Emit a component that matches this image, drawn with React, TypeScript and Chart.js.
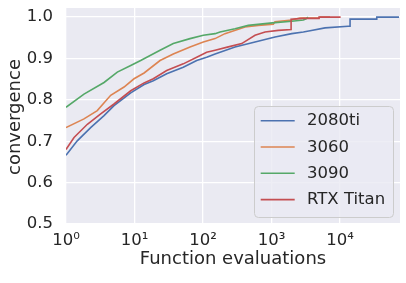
import React, { useEffect, useRef } from 'react';
import { Chart, registerables } from 'chart.js';

Chart.register(...registerables);

// ---------- data ----------
const seriesNames = ['2080ti', '3060', '3090', 'RTX Titan'];
const seriesColors = ['#4C72B0', '#DD8452', '#55A868', '#C44E52'];

const evals2080ti = [1, 1.46, 2.29, 3.59, 5.02, 8.81, 13.8, 18.8, 29.5, 51.5, 80.9, 113, 150, 293, 574, 1125, 1972, 2913, 3650, 6040, 13100, 14000, 14000, 34350, 34350, 72600];
const conv2080ti = [0.666, 0.701, 0.733, 0.762, 0.786, 0.817, 0.837, 0.846, 0.863, 0.879, 0.895, 0.903, 0.911, 0.928, 0.94, 0.952, 0.96, 0.964, 0.967, 0.974, 0.978, 0.978, 0.995, 0.995, 1.0, 1.0];

const evals3060 = [1, 1.83, 2.86, 4.49, 7.03, 9.84, 13.8, 23.6, 36.8, 64.6, 101, 150, 209, 410, 641, 1063, 1125, 1972, 2607, 4935, 5100, 7140];
const conv3060 = [0.733, 0.754, 0.774, 0.811, 0.831, 0.851, 0.865, 0.895, 0.911, 0.928, 0.94, 0.948, 0.96, 0.976, 0.98, 0.983, 0.989, 0.993, 0.998, 0.998, 1.0, 1.0];

const evals3090 = [1, 1.83, 3.59, 5.61, 8.81, 12.3, 23.6, 36.8, 64.6, 101, 150, 177, 293, 458, 1027, 1972, 2913, 3200, 3400];
const conv3090 = [0.782, 0.814, 0.842, 0.867, 0.883, 0.895, 0.92, 0.936, 0.948, 0.956, 0.96, 0.964, 0.972, 0.98, 0.986, 0.99, 0.993, 0.996, 1.0];

const evalsTitan = [1, 1.31, 2.05, 3.21, 5.02, 8.81, 13.8, 18.8, 29.5, 51.5, 80.9, 113, 150, 234, 367, 574, 804, 1256, 1930, 1930, 2884, 4935, 4935, 10200];
const convTitan = [0.68, 0.709, 0.741, 0.766, 0.79, 0.822, 0.841, 0.851, 0.871, 0.887, 0.903, 0.915, 0.92, 0.928, 0.936, 0.956, 0.964, 0.968, 0.97, 0.995, 0.997, 0.997, 1.0, 1.0];

const xTickValues = [1, 10, 100, 1000, 10000];
const xTickLabels = ['10⁰', '10¹', '10²', '10³', '10⁴'];
const yTickValues = [0.5, 0.6, 0.7, 0.8, 0.9, 1.0];
const yTickLabels = ['0.5', '0.6', '0.7', '0.8', '0.9', '1.0'];
const xAxisTitle = 'Function evaluations';
const yAxisTitle = 'convergence';

const seriesEvals = [evals2080ti, evals3060, evals3090, evalsTitan];
const seriesConv = [conv2080ti, conv3060, conv3090, convTitan];

const FONT = '"DejaVu Sans", sans-serif';
const TEXT = '#262626';
const BG = '#EAEAF2';

const decorPlugin = {
  id: 'decor',
  beforeDraw(chart: any) {
    const { ctx, chartArea } = chart;
    ctx.save();
    ctx.fillStyle = BG;
    ctx.fillRect(chartArea.left, chartArea.top, chartArea.right - chartArea.left, chartArea.bottom - chartArea.top);
    ctx.restore();
  },
  afterDatasetsDraw(chart: any) {
    const { ctx, chartArea } = chart;
    ctx.save();
    // legend
    const lw = 139;
    const lh = 111;
    const lx = chartArea.right - 7 - lw;
    const ly = chartArea.bottom - 7 - lh;
    ctx.beginPath();
    ctx.roundRect(lx + 0.5, ly + 0.5, lw, lh, 4);
    ctx.fillStyle = 'rgba(234,234,242,0.8)';
    ctx.fill();
    ctx.strokeStyle = '#CCCCCC';
    ctx.lineWidth = 1;
    ctx.stroke();
    ctx.font = `16.5px ${FONT}`;
    ctx.textBaseline = 'middle';
    ctx.textAlign = 'left';
    seriesNames.forEach((name, i) => {
      const cy = ly + 14.7 + i * 26.3;
      ctx.strokeStyle = seriesColors[i];
      ctx.lineWidth = 1.6;
      ctx.beginPath();
      ctx.moveTo(lx + 6.7, cy);
      ctx.lineTo(lx + 40.7, cy);
      ctx.stroke();
      ctx.fillStyle = TEXT;
      ctx.fillText(name, lx + 53, cy + 0.5);
    });
    ctx.restore();
  },
  afterDraw(chart: any) {
    const { ctx, chartArea } = chart;
    ctx.save();
    ctx.fillStyle = TEXT;
    ctx.font = `18px ${FONT}`;
    ctx.textAlign = 'center';
    ctx.textBaseline = 'alphabetic';
    ctx.fillText(xAxisTitle, (chartArea.left + chartArea.right) / 2, 264);
    ctx.translate(19.5, (chartArea.top + chartArea.bottom) / 2 + 1);
    ctx.rotate(-Math.PI / 2);
    ctx.fillText(yAxisTitle, 0, 0);
    ctx.restore();
  },
};

export default function App() {
  const canvasRef = useRef<HTMLCanvasElement | null>(null);

  useEffect(() => {
    if (!canvasRef.current) return;
    const datasets = seriesNames.map((name, i) => ({
      label: name,
      data: seriesEvals[i].map((x, j) => ({ x, y: seriesConv[i][j] })),
      borderColor: seriesColors[i],
      backgroundColor: seriesColors[i],
      borderWidth: 1.6,
      pointRadius: 0,
      tension: 0,
      fill: false,
      order: seriesNames.length - 1 - i,
    }));
    const chart = new Chart(canvasRef.current, {
      type: 'line',
      data: { datasets },
      options: {
        animation: false,
        responsive: false,
        maintainAspectRatio: false,
        devicePixelRatio: 1,
        layout: { padding: { top: 8, right: 6, left: 0, bottom: 0 } },
        plugins: {
          legend: { display: false },
          tooltip: { enabled: false },
          title: { display: false },
        },
        scales: {
          x: {
            type: 'logarithmic',
            min: 1,
            max: 75000,
            afterBuildTicks: (scale: any) => {
              scale.ticks = xTickValues.map((v) => ({ value: v }));
            },
            afterFit: (scale: any) => {
              scale.height = 59;
              scale.paddingLeft = 0;
              scale.paddingRight = 0;
            },
            border: { display: false },
            grid: { color: '#FFFFFF', lineWidth: 1.3, drawTicks: false },
            ticks: {
              autoSkip: false,
              maxRotation: 0,
              padding: 7,
              color: TEXT,
              font: { family: FONT, size: 16.5 },
              callback: (value: any) => {
                const k = xTickValues.indexOf(Number(value));
                return k >= 0 ? xTickLabels[k] : '';
              },
            },
          },
          y: {
            type: 'linear',
            min: 0.5,
            max: 1.022,
            afterBuildTicks: (scale: any) => {
              scale.ticks = yTickValues.map((v) => ({ value: v }));
            },
            afterFit: (scale: any) => {
              scale.width = 66;
              scale.paddingTop = 0;
              scale.paddingBottom = 0;
            },
            border: { display: false },
            grid: { color: '#FFFFFF', lineWidth: 1.3, drawTicks: false },
            ticks: {
              autoSkip: false,
              padding: 13,
              color: TEXT,
              font: { family: FONT, size: 16.5 },
              callback: (value: any) => {
                const k = yTickValues.findIndex((v) => Math.abs(v - Number(value)) < 1e-9);
                return k >= 0 ? yTickLabels[k] : '';
              },
            },
          },
        },
      },
      plugins: [decorPlugin],
    });
    return () => chart.destroy();
  }, []);

  return (
    <div style={{ position: 'fixed', left: 0, top: 0, width: 406, height: 283, background: '#FFFFFF' }}>
      <canvas ref={canvasRef} width={406} height={283} style={{ display: 'block', width: 406, height: 283 }} />
    </div>
  );
}
